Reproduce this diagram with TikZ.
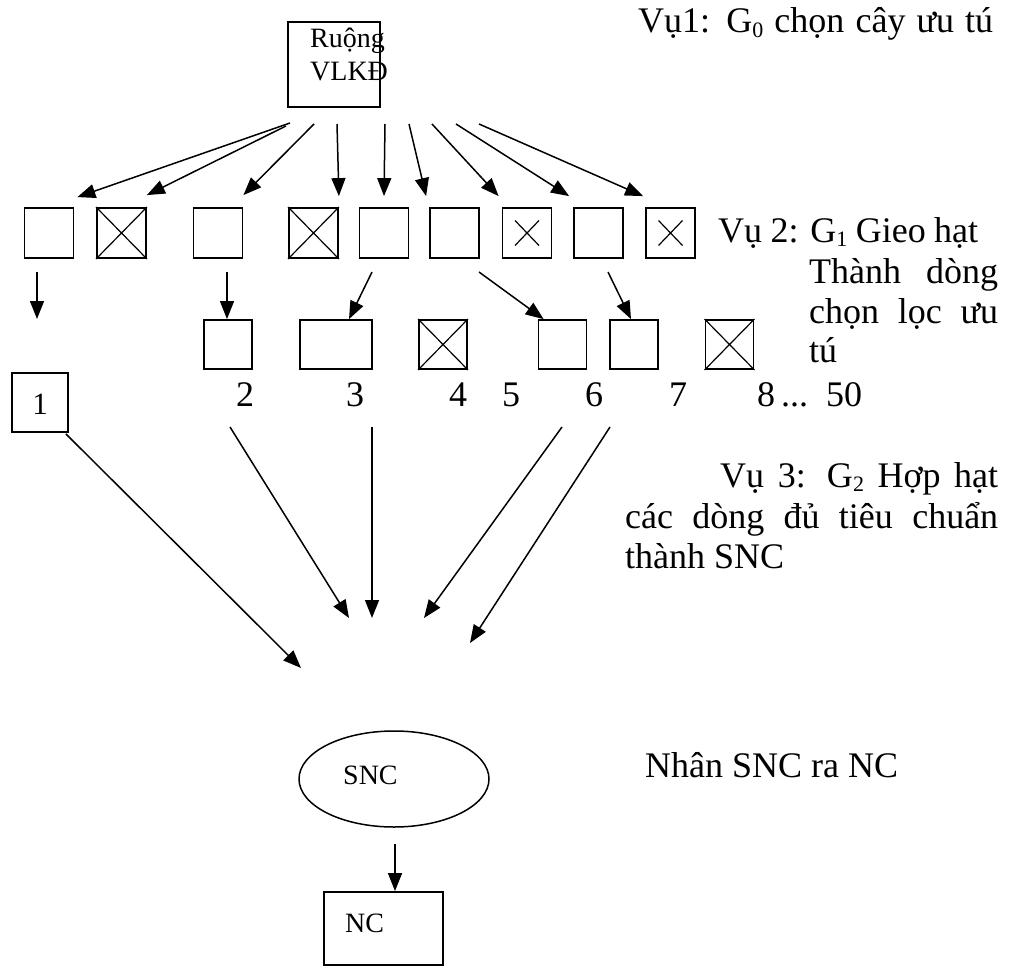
\documentclass[tikz,border=0pt]{standalone}
\usepackage{fontspec}
\setmainfont{Liberation Serif}
\usetikzlibrary{arrows.meta,shapes.geometric,calc}
\newcommand\sbs[1]{\raisebox{-0.3ex}{\fontsize{22}{22}\selectfont #1}}
\newcommand\bigfont{\fontsize{36}{40}\selectfont}
\newcommand\smallfont{\fontsize{28}{32}\selectfont}
\tikzset{
  box/.style={draw, line width=1.8pt, inner sep=0pt, minimum width=49pt, minimum height=50pt},
  rbox/.style={draw, line width=1.8pt, inner sep=0pt, minimum width=48pt, minimum height=49pt},
  arr/.style={line width=1.5pt, -{Triangle[length=18pt,width=14pt]}},
  txt/.style={inner sep=0pt, anchor=base west},
  cross/.style={line width=1.2pt},
}
\begin{document}
\begin{tikzpicture}[x=1pt,y=-1pt]
\useasboundingbox (0,0) rectangle (1011,974);
% top box
\node[draw, line width=1.8pt, inner sep=0pt, minimum width=92pt, minimum height=85pt] (top) at (334,64.5) {};
\node[txt, font=\smallfont] (toplbl1) at (310,48) {Ruộng};
\node[txt, font=\smallfont] (toplbl2) at (310,80) {VLKĐ};
% right texts
\node[txt, font=\bigfont] (v1) at (638,33) {\makebox[355pt][s]{Vụ1: G\sbs{0} chọn cây ưu tú}};
\node[txt, font=\bigfont] (v2a) at (718,242) {\makebox[260pt][s]{Vụ 2: G\sbs{1} Gieo hạt}};
\node[txt, font=\bigfont] (v2b) at (809,283) {\makebox[189pt][s]{Thành dòng}};
\node[txt, font=\bigfont] (v2c) at (809,323) {\makebox[189pt][s]{chọn lọc ưu}};
\node[txt, font=\bigfont] (v2d) at (809,362) {tú};
\node[txt, font=\bigfont] (v3a) at (720,487) {\makebox[278pt][s]{Vụ 3: G\sbs{2} Hợp hạt}};
\node[txt, font=\bigfont] (v3b) at (625,528) {\makebox[373pt][s]{các dòng đủ tiêu chuẩn}};
\node[txt, font=\bigfont] (v3c) at (625,568) {thành SNC};
\node[txt, font=\bigfont] (v4) at (645,777) {Nhân SNC ra NC};
% row 1 boxes
\node[box] (r1a) at (49,233) {};
\node[box] (r1b) at (121.5,233) {};
\node[box] (r1c) at (218,233) {};
\node[box] (r1d) at (313.5,233) {};
\node[box] (r1e) at (384,233) {};
\node[box] (r1f) at (454.5,233) {};
\node[box] (r1g) at (527,233) {};
\node[box] (r1h) at (598.5,233) {};
\node[box] (r1i) at (670.5,233) {};
\foreach \n in {r1b,r1d}{
  \draw[cross] (\n.north west) -- (\n.south east) (\n.north east) -- (\n.south west);
}
\foreach \n in {r1g,r1i}{
  \draw[cross] ($(\n.center)+(-12,-12.5)$) -- ($(\n.center)+(12,12.5)$)
               ($(\n.center)+(12,-12.5)$) -- ($(\n.center)+(-12,12.5)$);
}
% arrows from top box
\coordinate (s1) at (290,123);
\coordinate (s2) at (286,126);
\coordinate (s3) at (314,124);
\coordinate (s4) at (337,124);
\coordinate (s5) at (385,124);
\coordinate (s6) at (409,124);
\coordinate (s7) at (432,124);
\coordinate (s8) at (456,124);
\coordinate (s9) at (479,124);
\draw[arr] (s1) -- ([shift={(3pt,10pt)}]r1a.north east);
\draw[arr] (s2) -- ([yshift=12pt]r1b.north east);
\draw[arr] (s3) -- ([yshift=12pt]r1c.north east);
\draw[arr] (s4) -- ([yshift=11pt]r1d.north east);
\draw[arr] (s5) -- ([yshift=11pt]r1e.north);
\draw[arr] (s6) -- ([shift={(-3pt,11pt)}]r1f.north west);
\draw[arr] (s7) -- ([shift={(-3pt,11pt)}]r1g.north west);
\draw[arr] (s8) -- ([shift={(-4pt,11pt)}]r1h.north west);
\draw[arr] (s9) -- ([shift={(-2pt,11pt)}]r1i.north west);
% row 2 boxes
\node[rbox] (r2a) at (228,344.5) {};
\node[rbox, minimum width=72pt] (r2b) at (336,344.5) {};
\node[rbox] (r2c) at (443,344.5) {};
\node[rbox] (r2d) at (562.5,344.5) {};
\node[rbox] (r2e) at (634,344.5) {};
\node[rbox] (r2f) at (729.5,344.5) {};
\foreach \n in {r2c,r2f}{
  \draw[cross] (\n.north west) -- (\n.south east) (\n.north east) -- (\n.south west);
}
% box 1
\node[draw, line width=1.8pt, inner sep=0pt, minimum width=56pt, minimum height=59pt] (one) at (40,402.5) {};
\node[inner sep=0pt, anchor=base, font=\fontsize{31}{34}\selectfont] (onelbl) at (40,414) {1};
% arrows row1 -> row2
\coordinate (u1) at (37,272);
\coordinate (u2) at (227,272);
\coordinate (u3) at (372,272);
\coordinate (u4) at (479,272);
\coordinate (u5) at (608,272);
\coordinate (f1) at (37,319);
\draw[arr] (u1) -- (f1);
\draw[arr] (u2) -- ([xshift=-1pt]r2a.north);
\draw[arr] (u3) -- ([xshift=13pt]r2b.north);
\draw[arr] (u4) -- ([xshift=6pt]r2d.north west);
\draw[arr] (u5) -- ([xshift=-3pt]r2e.north);
% numbers
\foreach \t/\x in {2/245,3/355,4/458,5/511,6/594,7/678}{
  \node[inner sep=0pt, anchor=base, font=\bigfont] (num\t) at (\x,406) {\t};
}
\node[txt, font=\bigfont] (num8) at (757,406) {8\,...\hspace{18pt}50};
% arrows to SNC
\coordinate (w2) at (230,427);
\coordinate (w3) at (372,427);
\coordinate (w4) at (562,427);
\coordinate (w5) at (610,427);
\coordinate (e1) at (301,668);
\coordinate (e2) at (349,618);
\coordinate (e3) at (372,618);
\coordinate (e4) at (424,618);
\coordinate (e5) at (470,643);
\draw[arr] ([shift={(-3pt,-1pt)}]one.south east) -- (e1);
\draw[arr] (w2) -- (e2);
\draw[arr] (w3) -- (e3);
\draw[arr] (w4) -- (e4);
\draw[arr] (w5) -- (e5);
% SNC ellipse
\node[draw, ellipse, line width=1.5pt, inner sep=0pt, minimum width=190pt, minimum height=96pt] (snc) at (394,779) {};
\node[txt, font=\smallfont] (snclbl) at (343,784) {SNC};
% NC box
\node[draw, line width=1.8pt, inner sep=0pt, minimum width=119pt, minimum height=73pt] (nc) at (383.5,928.5) {};
\node[txt, font=\smallfont] (nclbl) at (345,932) {NC};
\coordinate (g1) at (395,844);
\draw[arr] (g1) -- ([xshift=11.5pt]nc.north);
\end{tikzpicture}
\end{document}
